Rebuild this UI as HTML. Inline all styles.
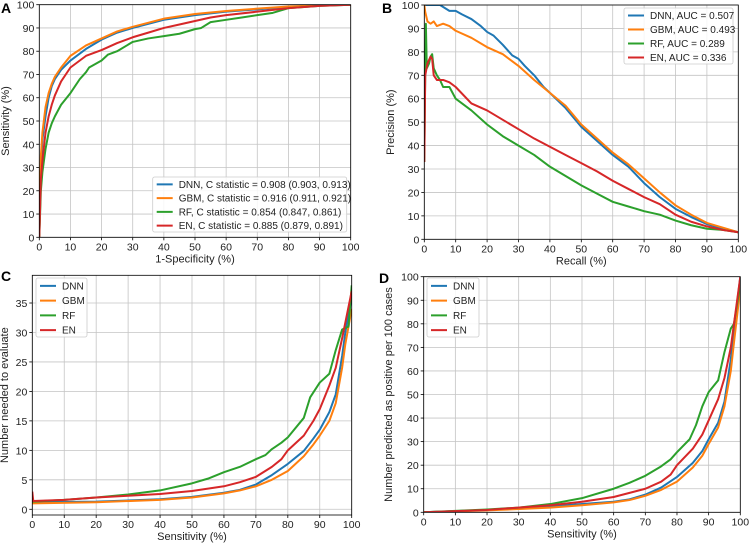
<!DOCTYPE html>
<html><head><meta charset="utf-8"><style>
body{margin:0;background:#fff}
svg{display:block;font-family:"Liberation Sans","DejaVu Sans",sans-serif}
</style></head><body>
<svg id="fig" width="750" height="543" viewBox="0 0 750 543"></svg>
<script>
const seriesNames = ["DNN","GBM","RF","EN"];
const colors = ["#1f77b4","#ff7f0e","#2ca02c","#d62728"];
const rocDNN = [[0,0],[0.5,30],[1,42],[2,52],[3,60],[4,65],[5,68],[7,72],[10,76],[15,81],[20,85],[25,88],[30,90],[40,93.5],[50,95.5],[60,97],[70,98],[80,99],[90,99.7],[100,100]];
const rocGBM = [[0,0],[0.5,35],[1,45],[2,56],[3,62],[4,66],[5,69],[7,73],[10,78],[15,82.5],[20,85.5],[25,88.5],[30,90.5],[40,94],[50,96],[60,97.3],[70,98.3],[80,99.2],[90,99.7],[100,100]];
const rocRF = [[0,0],[0.5,20],[1,28],[2,38],[3,45],[4,49],[5,52],[7,57],[10,62],[13,68],[15,71],[16,73],[20,76],[22,78.5],[25,80],[30,84],[35,85.5],[40,86.5],[45,87.5],[50,89.5],[52,90],[55,92.5],[60,93.5],[65,94.5],[70,95.5],[75,96.5],[80,98.5],[90,99.5],[100,100]];
const rocEN = [[0,0],[0.5,25],[1,33],[2,45],[3,52],[4,57],[5,61],[7,67],[10,73],[15,78],[20,80.5],[25,83.5],[30,86],[35,88],[40,90],[45,91.5],[50,93],[55,94.5],[60,95.5],[70,97],[80,98.5],[90,99.5],[100,100]];
const prDNN = [[0,100],[5,100],[8,97.5],[10,97.5],[12,96],[15,94],[18,91],[20,88.5],[22,87],[25,83],[28,78.5],[30,77],[32,74],[35,70],[38,65],[40,62.5],[45,56],[50,48],[55,42],[60,36],[65,31],[70,24],[75,18],[80,13],[85,9.5],[90,6.5],[95,4.5],[100,3]];
const prGBM = [[0,100],[0.3,97],[1,93],[2,92],[3,93],[4,91],[6,92],[8,91],[10,89],[15,86],[20,82],[25,79],[30,74],[35,68],[40,62.5],[45,57],[50,49],[55,43],[60,37],[65,32],[70,26],[75,20],[80,14.5],[85,10.5],[90,7],[95,5],[100,3]];
const prRF = [[0,33],[0.2,60],[0.5,92],[0.8,73],[1.5,75],[2,78],[2.5,79],[3,73],[4,70],[5,68],[6,65],[8,65],[10,60],[15,55],[20,49],[25,44],[30,40],[35,36],[40,31],[45,27],[50,23],[55,19.5],[60,16],[65,14],[70,12],[75,10.5],[80,8],[85,6],[90,4.5],[95,4],[100,3]];
const prEN = [[0,33],[0.3,70],[1,75],[2,78],[2.5,77],[3,70],[4,68],[6,68],[8,67],[10,65],[15,58],[20,55],[25,51],[30,47],[35,43],[40,39.5],[45,36],[50,32.5],[55,29],[60,25],[65,21.5],[70,18],[75,15],[80,10.5],[85,7.5],[90,5.5],[95,4],[100,3]];
const nneDNN = [[0,1.2],[20,1.3],[40,1.7],[50,2.1],[60,2.8],[65,3.3],[70,4.2],[75,5.8],[80,7.7],[85,9.9],[88,12],[90,13.5],[93,16.5],[95,19.5],[97,26],[98,30],[100,36]];
const nneGBM = [[0,1.0],[20,1.2],[40,1.6],[50,2.0],[60,2.7],[65,3.2],[70,3.9],[75,5],[80,6.5],[85,9],[88,11],[90,12.5],[93,15],[95,18],[97,24],[98,28],[100,34]];
const nneRF = [[0,1.3],[10,1.6],[20,2.0],[30,2.5],[40,3.2],[50,4.4],[55,5.2],[60,6.3],[65,7.2],[70,8.5],[73,9.2],[75,10.2],[78,11.3],[80,12.2],[85,15.5],[87,19],[90,21.5],[93,23],[95,27],[97,30.5],[99,31],[100,38]];
const nneEN = [[0,3],[0.3,1.4],[10,1.6],[20,2.0],[30,2.3],[40,2.6],[50,3.1],[60,3.9],[65,4.6],[70,5.5],[75,7.2],[78,8.5],[80,10],[85,12.5],[88,15],[90,17],[93,21],[95,24],[97,29],[100,37]];
const posDNN = [[0,0],[20,1],[40,2.5],[50,3.5],[60,4.5],[65,5.5],[70,7.5],[75,10.5],[80,15],[85,21],[88,26],[90,31],[93,38],[95,47],[97,65],[98,78],[100,100]];
const posGBM = [[0,0],[20,0.8],[40,2],[50,3],[60,4.2],[65,5.2],[70,7],[75,9.5],[80,13],[85,19],[88,24],[90,29],[93,36],[95,45],[97,60],[98,72],[100,95]];
const posRF = [[0,0],[20,1.2],[30,2],[40,3.5],[50,6],[60,10],[65,12.5],[70,15.5],[75,19.5],[78,22.5],[80,25.5],[84,31],[86,37],[88,45],[90,51],[93,56],[95,68],[97,78],[98,80],[100,97]];
const posEN = [[0,0],[20,1],[40,3],[50,4.5],[60,6.5],[70,10],[75,13],[78,16],[80,20],[85,27],[88,33],[90,39],[93,48],[95,57],[97,70],[100,100]];
const xTicks = [0,10,20,30,40,50,60,70,80,90,100];
const yTicks100 = [0,10,20,30,40,50,60,70,80,90,100];
const yTicksC = [0,5,10,15,20,25,30,35];
const legendA = ["DNN, C statistic = 0.908 (0.903, 0.913)","GBM, C statistic = 0.916 (0.911, 0.921)","RF, C statistic = 0.854 (0.847, 0.861)","EN, C statistic = 0.885 (0.879, 0.891)"];
const legendB = ["DNN, AUC = 0.507","GBM, AUC = 0.493","RF, AUC = 0.289","EN, AUC = 0.336"];

const NS="http://www.w3.org/2000/svg";
const svg=document.getElementById('fig');
function mk(tag,attrs,parent){const e=document.createElementNS(NS,tag);for(const k in attrs)e.setAttribute(k,attrs[k]);(parent||svg).appendChild(e);return e;}

const panels=[
 {id:"a",letter:"A",px:1,py:13,L:39.3,R:350.7,T:4.7,B:237.3,ymin:0,ymax:100,yt:yTicks100,xl:"1-Specificity (%)",yl:"Sensitivity (%)",ytx:9,data:[rocDNN,rocGBM,rocRF,rocEN],leg:legendA,lx:152.7,ly:177,lw:194,lh:55},
 {id:"b",letter:"B",px:382,py:13,L:424.3,R:738.3,T:5,B:239.3,ymin:0,ymax:100,yt:yTicks100,xl:"Recall (%)",yl:"Precision (%)",ytx:394,data:[prDNN,prGBM,prRF,prEN],leg:legendB,lx:624,ly:8,lw:109,lh:56},
 {id:"c",letter:"C",px:1,py:281,L:32.3,R:351.7,T:275.3,B:515,ymin:-0.97,ymax:39.7,yt:yTicksC,xl:"Sensitivity (%)",yl:"Number needed to evaluate",ytx:8,data:[nneDNN,nneGBM,nneRF,nneEN],leg:seriesNames,lx:36,ly:278,lw:51,lh:59},
 {id:"d",letter:"D",px:379,py:283,L:423.7,R:740.3,T:276.7,B:512.3,ymin:0,ymax:100,yt:yTicks100,xl:"Sensitivity (%)",yl:"Number predicted as positive per 100 cases",ytx:392,data:[posDNN,posGBM,posRF,posEN],leg:seriesNames,lx:427,ly:278,lw:52,lh:59}
];

panels.forEach(p=>{
  const g=mk('g',{});
  
  
  const sx=v=>p.L+(v-0)/100*(p.R-p.L);
  const sy=v=>p.B-(v-p.ymin)/(p.ymax-p.ymin)*(p.B-p.T);
  xTicks.forEach(t=>{
    const l=mk('line',{x1:sx(t),x2:sx(t),y1:p.T,y2:p.B,stroke:"#c4c4c4","stroke-width":0.8},g);
    
    
    mk('line',{x1:sx(t),x2:sx(t),y1:p.B,y2:p.B+3,stroke:"#000","stroke-width":0.8},g);
    const tx=mk('text',{x:sx(t),y:p.B+13,"text-anchor":"middle","font-size":10.5,fill:"#222"},g);
    tx.textContent=t;
    
    
  });
  p.yt.forEach(t=>{
    const l=mk('line',{x1:p.L,x2:p.R,y1:sy(t),y2:sy(t),stroke:"#c4c4c4","stroke-width":0.8},g);
    
    
    mk('line',{x1:p.L-3,x2:p.L,y1:sy(t),y2:sy(t),stroke:"#000","stroke-width":0.8},g);
    const tx=mk('text',{x:p.L-5,y:sy(t)+4,"text-anchor":"end","font-size":10.5,fill:"#222"},g);
    tx.textContent=t;
    
    
  });
  const cp=mk('clipPath',{id:'clip'+p.id},g);
  mk('rect',{x:p.L,y:p.T,width:p.R-p.L,height:p.B-p.T},cp);
  p.data.forEach((arr,i)=>{
    const d=arr.map((pt,j)=>(j?'L':'M')+sx(pt[0]).toFixed(2)+','+sy(pt[1]).toFixed(2)).join('');
    const path=mk('path',{d:d,fill:"none",stroke:colors[i],"stroke-width":2,"stroke-linejoin":"round","clip-path":"url(#clip"+p.id+")"},g);
    
    
  });
  const fr=mk('rect',{x:p.L,y:p.T,width:p.R-p.L,height:p.B-p.T,fill:"none",stroke:"#000","stroke-width":0.8},g);
  
  
  const xl=mk('text',{x:(p.L+p.R)/2,y:p.B+25,"text-anchor":"middle","font-size":11,fill:"#222"},g);
  xl.textContent=p.xl;
  
  
  const yx=p.ytx, yy=(p.T+p.B)/2;
  const yl=mk('text',{x:yx,y:yy,"text-anchor":"middle","font-size":11,fill:"#222",transform:`rotate(-90 ${yx} ${yy})`},g);
  yl.textContent=p.yl;
  
  
  const pl=mk('text',{x:p.px,y:p.py,"font-size":14,"font-weight":"bold",fill:"#000"},g);
  pl.textContent=p.letter;
  
  
  const lg=mk('g',{},g);
  
  
  mk('rect',{x:p.lx,y:p.ly,width:p.lw,height:p.lh,fill:"#fff","fill-opacity":0.85,stroke:"#ccc","stroke-width":0.8,rx:2},lg);
  const step=p.lh/4;
  p.leg.forEach((s,i)=>{
    const yy2=p.ly+step*(i+0.5)+0.5;
    const ln=mk('line',{x1:p.lx+4,x2:p.lx+20,y1:yy2,y2:yy2,stroke:colors[i],"stroke-width":2},lg);
    
    
    const t=mk('text',{x:p.lx+26,y:yy2+3.5,"font-size":10,fill:"#222"},lg);
    t.textContent=s;
    
    
  });
});
</script>
</body></html>
